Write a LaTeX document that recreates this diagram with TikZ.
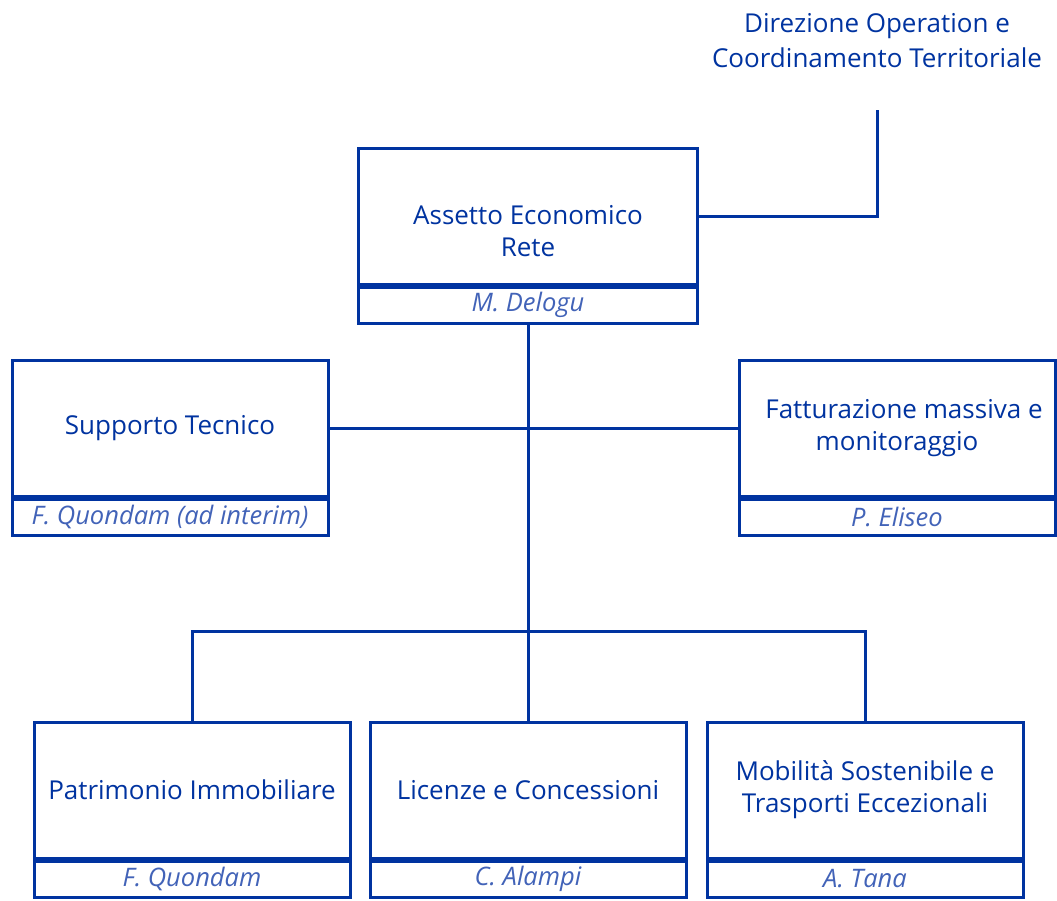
\documentclass[tikz,border=0pt]{standalone}
\usepackage{fontspec}
\setmainfont{Open Sans}
\usetikzlibrary{positioning}
\definecolor{orgblue}{HTML}{0033A0}
\definecolor{nameblue}{HTML}{4263B8}

\begin{document}
\begin{tikzpicture}[x=1pt, y=-1pt, line width=3pt, draw=orgblue,
	unitbox/.style={draw=orgblue, line width=3pt, fill=white, minimum width=316pt, minimum height=136pt, inner sep=0pt, align=center, text=orgblue, font=\fontsize{26}{32}\selectfont},
	namebox/.style={draw=orgblue, line width=3pt, fill=white, minimum width=316pt, minimum height=36pt, inner sep=0pt, text=nameblue, font=\fontsize{25.5}{28}\selectfont\itshape},
	node distance=0pt]
	\useasboundingbox (0,0) rectangle (1057,900);
	% top unit and its parent
	\node[unitbox, minimum width=339pt] (asset) at (528,216) {\rule{0pt}{49pt}Assetto Economico\\Rete};
	\node[namebox, minimum width=339pt, below=of asset] (assetname) {M. Delogu};
	\node[align=center, text=orgblue, font=\fontsize{26}{35}\selectfont] (direz) at (877,41) {Direzione Operation e\\Coordinamento Territoriale};
	\coordinate (direzend) at (877,110);
	% staff units
	\node[unitbox] (support) at (170,428) {Supporto Tecnico};
	\node[namebox, below=of support] (supportname) {F. Quondam (ad interim)};
	\node[unitbox] (billing) at (897,428) {\hspace*{14pt}Fatturazione massiva e\\monitoraggio};
	\node[namebox, below=of billing] (billingname) {P. Eliseo};
	% line units
	\node[unitbox] (estate) at (192,790) {Patrimonio Immobiliare};
	\node[namebox, below=of estate] (estatename) {F. Quondam};
	\node[unitbox] (licence) at (528,790) {Licenze e Concessioni};
	\node[namebox, below=of licence] (licencename) {C. Alampi};
	\node[unitbox] (mobility) at (865,790) {Mobilità Sostenibile e\\Trasporti Eccezionali};
	\node[namebox, below=of mobility] (mobilityname) {A. Tana};
	\coordinate (hub) at (528,631);
	% connectors
	\draw (asset.east) -| (direzend);
	\draw (assetname.south) -- (hub);
	\draw (support.east) -- (billing.west);
	\draw (estate.north) |- (hub) -| (mobility.north);
	\draw (hub) -- (licence.north);
\end{tikzpicture}
\end{document}
